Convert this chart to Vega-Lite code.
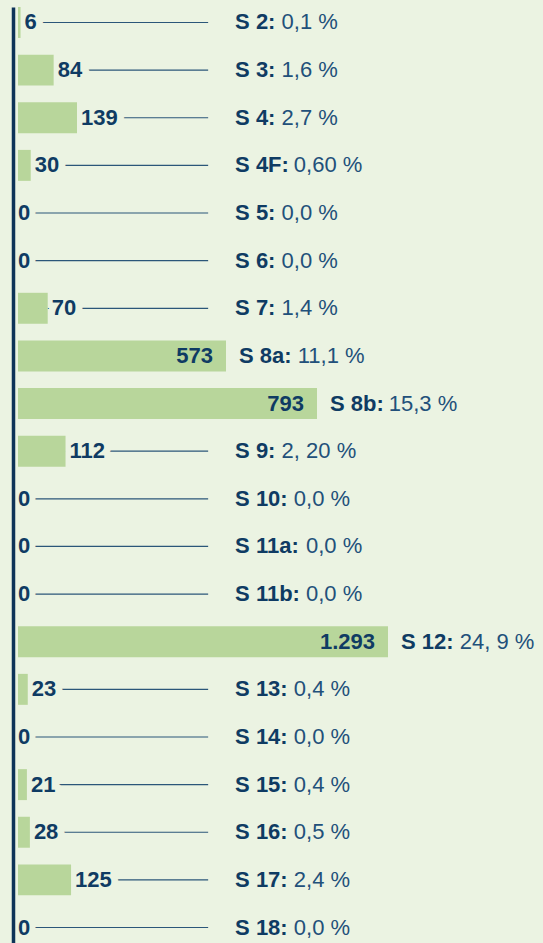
{
  "$schema": "https://vega.github.io/schema/vega-lite/v6.json",
  "width": 525,
  "height": 936,
  "autosize": {"type": "none"},
  "padding": {"left": 18, "top": 7, "right": 0, "bottom": 0},
  "background": "#ebf3e2",
  "config": {
    "view": {"stroke": null},
    "font": "Liberation Sans",
    "locale": {"number": {"decimal": ",", "thousands": ".", "grouping": [3], "currency": ["", " €"]}}
  },
  "data": {
    "values": [
      {"seg": "S 2:", "value": 6, "pct": "0,1 %"},
      {"seg": "S 3:", "value": 84, "pct": "1,6 %"},
      {"seg": "S 4:", "value": 139, "pct": "2,7 %"},
      {"seg": "S 4F:", "value": 30, "pct": "0,60 %"},
      {"seg": "S 5:", "value": 0, "pct": "0,0 %"},
      {"seg": "S 6:", "value": 0, "pct": "0,0 %"},
      {"seg": "S 7:", "value": 70, "pct": "1,4 %"},
      {"seg": "S 8a:", "value": 573, "pct": "11,1 %"},
      {"seg": "S 8b:", "value": 793, "pct": "15,3 %"},
      {"seg": "S 9:", "value": 112, "pct": "2, 20 %"},
      {"seg": "S 10:", "value": 0, "pct": "0,0 %"},
      {"seg": "S 11a:", "value": 0, "pct": "0,0 %"},
      {"seg": "S 11b:", "value": 0, "pct": "0,0 %"},
      {"seg": "S 12:", "value": 1293, "pct": "24, 9 %"},
      {"seg": "S 13:", "value": 23, "pct": "0,4 %"},
      {"seg": "S 14:", "value": 0, "pct": "0,0 %"},
      {"seg": "S 15:", "value": 21, "pct": "0,4 %"},
      {"seg": "S 16:", "value": 28, "pct": "0,5 %"},
      {"seg": "S 17:", "value": 125, "pct": "2,4 %"},
      {"seg": "S 18:", "value": 0, "pct": "0,0 %"}
    ]
  },
  "encoding": {
    "y": {
      "field": "seg", "type": "nominal",
      "sort": ["S 2:", "S 3:", "S 4:", "S 4F:", "S 5:", "S 6:", "S 7:", "S 8a:", "S 8b:", "S 9:", "S 10:", "S 11a:", "S 11b:", "S 12:", "S 13:", "S 14:", "S 15:", "S 16:", "S 17:", "S 18:"],
      "scale": {"paddingInner": 0.35, "paddingOuter": 0},
      "axis": {"title": null, "labels": false, "ticks": false, "grid": false, "domain": true, "domainColor": "#0d3358", "domainWidth": 3.5, "offset": 5, "zindex": 1}
    },
    "x": {
      "field": "value", "type": "quantitative",
      "scale": {"domain": [0, 139, 573, 793, 1293], "range": [0, 59, 208, 299, 370], "clamp": false},
      "axis": null
    }
  },
  "layer": [
    {
      "transform": [{"filter": "datum.value < 500"}],
      "mark": {"type": "rule", "color": "#2b5679", "strokeWidth": 1.2},
      "encoding": {"x2": {"datum": 521}}
    },
    {
      "transform": [{"filter": "datum.value > 0 && datum.value < 500"}],
      "mark": {"type": "text", "align": "left", "baseline": "middle", "dx": 4, "fontSize": 22, "fontWeight": "bold", "fill": "#ebf3e2", "stroke": "#ebf3e2", "strokeWidth": 14, "strokeJoin": "round"},
      "encoding": {"text": {"field": "value", "type": "quantitative", "format": ",d"}}
    },
    {
      "transform": [{"filter": "datum.value == 0"}],
      "mark": {"type": "text", "align": "left", "baseline": "middle", "dx": 0, "fontSize": 22, "fontWeight": "bold", "fill": "#ebf3e2", "stroke": "#ebf3e2", "strokeWidth": 12, "strokeJoin": "round"},
      "encoding": {"text": {"field": "value", "type": "quantitative", "format": ",d"}}
    },
    {
      "mark": {"type": "bar", "color": "#b8d69b"}
    },
    {
      "transform": [{"filter": "datum.value > 0 && datum.value < 500"}],
      "mark": {"type": "text", "align": "left", "baseline": "middle", "dx": 4, "fontSize": 22, "fontWeight": "bold", "color": "#0f3b63"},
      "encoding": {"text": {"field": "value", "type": "quantitative", "format": ",d"}}
    },
    {
      "transform": [{"filter": "datum.value == 0"}],
      "mark": {"type": "text", "align": "left", "baseline": "middle", "dx": 0, "fontSize": 22, "fontWeight": "bold", "color": "#0f3b63"},
      "encoding": {"text": {"field": "value", "type": "quantitative", "format": ",d"}}
    },
    {
      "transform": [{"filter": "datum.value >= 500"}],
      "mark": {"type": "text", "align": "right", "baseline": "middle", "dx": -13, "fontSize": 22, "fontWeight": "bold", "color": "#0f3b63"},
      "encoding": {"text": {"field": "value", "type": "quantitative", "format": ",d"}}
    },
    {
      "transform": [{"filter": "datum.value < 500"}],
      "mark": {"type": "text", "align": "left", "baseline": "middle", "fontSize": 22, "fontWeight": "bold", "color": "#0f3b63"},
      "encoding": {"x": {"datum": 595, "type": "quantitative"}, "text": {"field": "seg", "type": "nominal"}}
    },
    {
      "transform": [{"filter": "datum.value >= 500"}],
      "mark": {"type": "text", "align": "left", "baseline": "middle", "dx": 13, "fontSize": 22, "fontWeight": "bold", "color": "#0f3b63"},
      "encoding": {"text": {"field": "seg", "type": "nominal"}}
    },
    {
      "transform": [{"filter": "datum.value < 500 && length(datum.seg) == 4"}],
      "mark": {"type": "text", "align": "left", "baseline": "middle", "dx": 46.5, "fontSize": 22, "color": "#22507a"},
      "encoding": {"x": {"datum": 595, "type": "quantitative"}, "text": {"field": "pct", "type": "nominal"}}
    },
    {
      "transform": [{"filter": "datum.value < 500 && length(datum.seg) == 5"}],
      "mark": {"type": "text", "align": "left", "baseline": "middle", "dx": 58.7, "fontSize": 22, "color": "#22507a"},
      "encoding": {"x": {"datum": 595, "type": "quantitative"}, "text": {"field": "pct", "type": "nominal"}}
    },
    {
      "transform": [{"filter": "datum.value < 500 && length(datum.seg) == 6"}],
      "mark": {"type": "text", "align": "left", "baseline": "middle", "dx": 70.9, "fontSize": 22, "color": "#22507a"},
      "encoding": {"x": {"datum": 595, "type": "quantitative"}, "text": {"field": "pct", "type": "nominal"}}
    },
    {
      "transform": [{"filter": "datum.value >= 500"}],
      "mark": {"type": "text", "align": "left", "baseline": "middle", "dx": 71.7, "fontSize": 22, "color": "#22507a"},
      "encoding": {"text": {"field": "pct", "type": "nominal"}}
    }
  ]
}
